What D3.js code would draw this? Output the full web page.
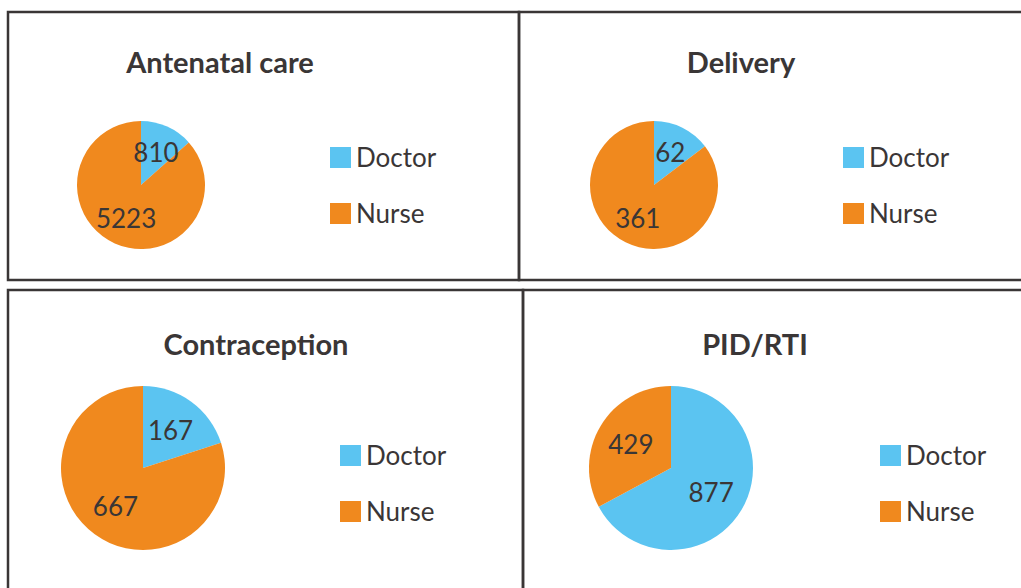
<!DOCTYPE html>
<html>
<head>
<meta charset="utf-8">
<script src="https://cdn.jsdelivr.net/npm/d3@7"></script>
<style>
  body { margin: 0; background: #fff; }
  svg { display: block; }
</style>
</head>
<body>
<svg id="chart"></svg>
<script>
// Data
const panelTitles = ["Antenatal care", "Delivery", "Contraception", "PID/RTI"];
const categories = ["Doctor", "Nurse"];
const doctorValues = [810, 62, 167, 877];
const nurseValues = [5223, 361, 667, 429];

// Layout of each panel box (positions only)
const width = 1021, height = 588;
const boxes = [
    {x: 8,   y: 12,  w: 511, h: 268, cx: 141, cy: 185, r: 64, titleX: 220, titleY: 73,  legX: 330, legY: 147},
    {x: 519, y: 12,  w: 520, h: 268, cx: 654, cy: 185, r: 64, titleX: 741, titleY: 73,  legX: 843, legY: 147},
    {x: 8,   y: 290, w: 515, h: 320, cx: 143, cy: 468, r: 82, titleX: 256, titleY: 355, legX: 340, legY: 445},
    {x: 523, y: 290, w: 520, h: 320, cx: 671, cy: 468, r: 82, titleX: 755, titleY: 355, legX: 880, legY: 445}
];

const textColor = "#3a3636";
const color = d3.scaleOrdinal()
    .domain(categories)
    .range(["#5bc4f1", "#f0891e"]);

const svg = d3.select("#chart")
    .attr("width", width)
    .attr("height", height)
    .style("font-family", "Lato, 'Open Sans', sans-serif");

const pie = d3.pie()
    .sort(null)
    .value(d => d.value);

panelTitles.forEach((title, i) => {
    const b = boxes[i];
    const data = [
        {name: categories[0], value: doctorValues[i]},
        {name: categories[1], value: nurseValues[i]}
    ];

    // panel border
    svg.append("rect")
        .attr("x", b.x)
        .attr("y", b.y)
        .attr("width", b.w)
        .attr("height", b.h)
        .attr("fill", "none")
        .attr("stroke", textColor)
        .attr("stroke-width", 2.5);

    // title
    svg.append("text")
        .attr("x", b.titleX)
        .attr("y", b.titleY)
        .attr("text-anchor", "middle")
        .attr("font-size", "29px")
        .attr("font-weight", "bold")
        .attr("fill", textColor)
        .text(title);

    // pie
    const arc = d3.arc().innerRadius(0).outerRadius(b.r);
    const labelArc = d3.arc().innerRadius(b.r * 0.57).outerRadius(b.r * 0.57);
    const g = svg.append("g")
        .attr("transform", `translate(${b.cx},${b.cy})`);

    const arcs = pie(data);

    g.selectAll("path")
        .data(arcs)
        .enter().append("path")
        .attr("d", arc)
        .attr("fill", d => color(d.data.name));

    g.selectAll("text")
        .data(arcs)
        .enter().append("text")
        .attr("transform", d => `translate(${labelArc.centroid(d)})`)
        .attr("text-anchor", "middle")
        .attr("dy", "0.38em")
        .attr("font-size", "26px")
        .attr("fill", textColor)
        .text(d => d.data.value);

    // legend
    const legend = svg.selectAll(".legend" + i)
        .data(categories)
        .enter().append("g")
        .attr("transform", (d, j) => `translate(${b.legX},${b.legY + j * 56})`);

    legend.append("rect")
        .attr("width", 21)
        .attr("height", 21)
        .attr("fill", d => color(d));

    legend.append("text")
        .attr("x", 26)
        .attr("y", 20)
        .attr("font-size", "26px")
        .attr("fill", textColor)
        .text(d => d);
});
</script>
</body>
</html>
